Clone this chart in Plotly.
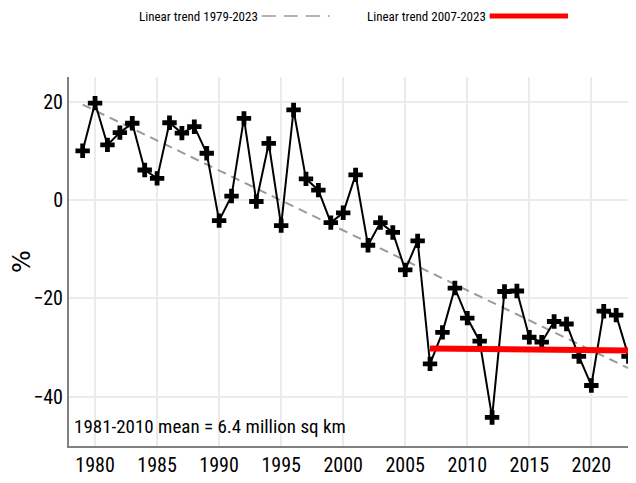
import plotly.graph_objects as go

years = list(range(1979, 2024))
anomaly = [10.0, 19.7, 11.2, 13.7, 15.6, 6.1, 4.4, 15.7, 13.6, 14.9,
           9.5, -4.2, 0.8, 16.6, -0.3, 11.5, -5.2, 18.3, 4.3, 2.0,
           -4.6, -2.6, 5.1, -9.2, -4.6, -6.6, -14.2, -8.3, -33.3, -26.9,
           -17.9, -24.0, -28.7, -44.2, -18.6, -18.5, -27.9, -28.9, -24.7, -25.2,
           -31.8, -37.7, -22.6, -23.4, -31.8]

trend_long_x = [1979, 2023]
trend_long_y = [19.4, -34.2]
trend_short_x = [2007, 2023]
trend_short_y = [-30.2, -30.6]

x_ticks = [1980, 1985, 1990, 1995, 2000, 2005, 2010, 2015, 2020]
y_ticks = [20, 0, -20, -40]
y_ticktext = ["20", "0", "\u221220", "\u221240"]

FONT = "Roboto Condensed, Liberation Sans Narrow, DejaVu Sans Condensed, Liberation Sans, sans-serif"
WIDE = "DejaVu Sans, sans-serif"

fig = go.Figure()
fig.add_trace(go.Scatter(x=trend_long_x, y=trend_long_y, mode="lines",
                         line=dict(color="#9a9a9a", width=2, dash="9px,6px"),
                         showlegend=False))
fig.add_trace(go.Scatter(x=years, y=anomaly, mode="lines+markers",
                         line=dict(color="black", width=2),
                         marker=dict(symbol="cross", size=12, color="black"),
                         showlegend=False))
fig.add_trace(go.Scatter(x=trend_short_x, y=trend_short_y, mode="lines",
                         line=dict(color="#ff0000", width=6),
                         showlegend=False))

# manual legend (text followed by line sample)
LEG_Y = 1.165
fig.add_annotation(x=0.120, y=LEG_Y, xref="paper", yref="paper", xanchor="left",
                   yanchor="middle", text="Linear trend 1979-2023", showarrow=False,
                   font=dict(family=FONT, size=13, color="black"))
fig.add_shape(type="line", xref="paper", yref="paper", x0=0.340, x1=0.460,
              y0=LEG_Y, y1=LEG_Y, line=dict(color="#9a9a9a", width=1.5, dash="14px,8px"))
fig.add_annotation(x=0.522, y=LEG_Y, xref="paper", yref="paper", xanchor="left",
                   yanchor="middle", text="Linear trend 2007-2023", showarrow=False,
                   font=dict(family=FONT, size=13, color="black"))
fig.add_shape(type="line", xref="paper", yref="paper", x0=0.742, x1=0.880,
              y0=LEG_Y, y1=LEG_Y, line=dict(color="#ff0000", width=5))

fig.add_annotation(x=0.005, y=0.0515, xref="paper", yref="paper", xanchor="left",
                   yanchor="middle", text="1981-2010 mean = 6.4 million sq km",
                   showarrow=False, font=dict(family=FONT, size=19, color="black"))

fig.update_layout(
    width=628, height=475,
    margin=dict(l=61, r=0, t=69, b=37, autoexpand=False),
    paper_bgcolor="white", plot_bgcolor="white",
    font=dict(family=FONT, color="black"),
    xaxis=dict(range=[1977.9, 2023.6], tickvals=x_ticks, showgrid=True,
               gridcolor="#ebebeb", gridwidth=1.5, zeroline=False,
               showline=True, linecolor="#808080", linewidth=2,
               ticks="", tickfont=dict(size=20, family=FONT, color="black")),
    yaxis=dict(range=[-50, 25], tickvals=y_ticks, ticktext=y_ticktext,
               showgrid=True, gridcolor="#ebebeb", gridwidth=1.5, zeroline=False,
               showline=True, linecolor="#808080", linewidth=2,
               ticks="", tickfont=dict(size=20, family=FONT, color="black"),
               title=dict(text="%", font=dict(size=24, family=WIDE, color="black"),
                          standoff=10)),
)

fig.write_html("out.html")
